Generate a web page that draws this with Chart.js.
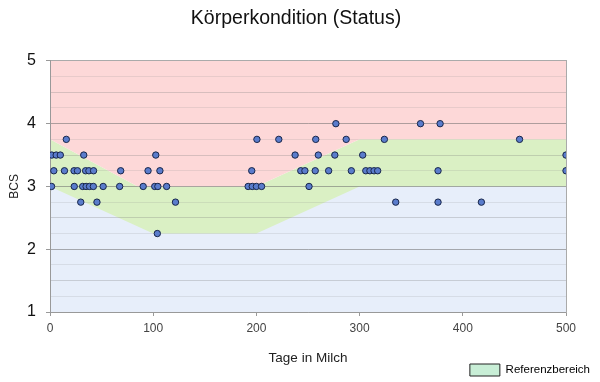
<!DOCTYPE html>
<html><head><meta charset="utf-8">
<script src="https://cdn.jsdelivr.net/npm/chart.js@4"></script>
<style>html,body{margin:0;padding:0;background:#fff}#wrap{width:600px;height:382px;position:relative}</style>
</head><body><div id="wrap"><canvas id="c"></canvas></div>
<script>
const chartTitle = 'Körperkondition (Status)';
const xTitle = 'Tage in Milch';
const yTitle = 'BCS';
const legendLabel = 'Referenzbereich';
const xTicks = [0, 100, 200, 300, 400, 500];
const yTicks = [1, 2, 3, 4, 5];
const refUpperDays = [0, 85, 200, 300, 500];
const refUpperBCS  = [3.75, 3.0, 3.0, 3.75, 3.75];
const refLowerDays = [0, 100, 200, 300, 500];
const refLowerBCS  = [3.0, 2.25, 2.25, 3.0, 3.0];
const cowDays = [
  1.5, 23.5, 31.7, 35, 38.3, 42, 51.5, 67.5, 90.3, 101.5, 104.5, 113,
  3.7, 14, 23.3, 26.6, 34.5, 37.7, 42.2, 68.5, 95, 106.5,
  1.7, 6, 10, 32.7, 102.5,
  15.8,
  29.8, 45.5, 121.6,
  104,
  192, 196, 200, 205, 251,
  195.5, 243, 247, 257, 270, 292, 306, 310, 314, 317.5,
  237.5, 260, 276, 303,
  200.5, 221.7, 257.5, 287, 324,
  277,
  335,
  359, 378, 455, 500, 376, 500, 376, 418
];
const cowBCS = [
  3, 3, 3, 3, 3, 3, 3, 3, 3, 3, 3, 3,
  3.25, 3.25, 3.25, 3.25, 3.25, 3.25, 3.25, 3.25, 3.25, 3.25,
  3.5, 3.5, 3.5, 3.5, 3.5,
  3.75,
  2.75, 2.75, 2.75,
  2.25,
  3, 3, 3, 3, 3,
  3.25, 3.25, 3.25, 3.25, 3.25, 3.25, 3.25, 3.25, 3.25, 3.25,
  3.5, 3.5, 3.5, 3.5,
  3.75, 3.75, 3.75, 3.75, 3.75,
  4,
  2.75,
  4, 4, 3.75, 3.5, 3.25, 3.25, 2.75, 2.75
];

const toXY = (xs, ys) => xs.map((x, i) => ({x, y: ys[i]}));
const FONT = "'Liberation Sans', Arial, sans-serif";

new Chart(document.getElementById('c'), {
  type: 'scatter',
  data: {
    datasets: [
      { label: 'unter', data: toXY(refLowerDays, refLowerBCS), showLine: true, borderWidth: 0, pointRadius: 0,
        backgroundColor: '#e7eefa', fill: 'start', order: 5 },
      { label: legendLabel, data: toXY(refUpperDays, refUpperBCS), showLine: true, borderWidth: 0, pointRadius: 0,
        backgroundColor: '#daf0c4', fill: 'start', order: 6 },
      { label: 'ueber', data: toXY(refUpperDays, refUpperBCS), showLine: true, borderWidth: 0, pointRadius: 0,
        backgroundColor: '#fdd8d8', fill: 'end', order: 3 },
      { label: 'BCS', data: toXY(cowDays, cowBCS), showLine: false, pointRadius: 3.2, pointHoverRadius: 3.2,
        backgroundColor: '#5a7ccc', borderColor: '#18264a', borderWidth: 1, order: 1 }
    ]
  },
  options: {
    responsive: true, maintainAspectRatio: false, animation: false,
    layout: { padding: { left: 0, right: 8, top: 0, bottom: -4 } },
    plugins: {
      filler: { drawTime: 'beforeDraw' },
      tooltip: { enabled: false },
      title: { display: true, text: chartTitle, color: '#111', font: { family: FONT, size: 19.5, weight: 'normal' },
        padding: { top: 7, bottom: 30.5 } },
      legend: {
        display: true, position: 'bottom', align: 'end',
        labels: {
          boxWidth: 30, boxHeight: 12, padding: 2, color: '#222', font: { family: FONT, size: 11.5 },
          generateLabels: () => [{ text: legendLabel, fillStyle: '#c8eed6', strokeStyle: '#222', lineWidth: 1, hidden: false, datasetIndex: 1 }]
        }
      }
    },
    scales: {
      x: {
        type: 'linear', position: 'bottom', min: 0, max: 500,
        afterBuildTicks: s => { s.ticks = xTicks.map(v => ({value: v})); },
        afterFit: s => { s.height = 50; },
        ticks: { color: '#444', font: { family: FONT, size: 12 }, padding: 5, maxRotation: 0 },
        grid: { drawOnChartArea: false, drawTicks: true, tickLength: 4, tickColor: '#999' },
        border: { color: '#999', width: 1 },
        title: { display: true, text: xTitle, color: '#222', font: { family: FONT, size: 13.5 }, padding: { top: 0, bottom: -4 } }
      },
      xTop: {
        type: 'linear', position: 'top', min: 0, max: 500,
        afterFit: s => { s.height = 0; },
        ticks: { display: false },
        grid: { drawOnChartArea: false, drawTicks: false },
        border: { color: '#aaa', width: 1 }
      },
      y: {
        type: 'linear', position: 'left', min: 1, max: 5,
        afterBuildTicks: s => { const t = []; for (let v = yTicks[0]; v <= yTicks[yTicks.length-1] + 1e-9; v += 0.25) t.push({value: Math.round(v*100)/100}); s.ticks = t; },
        afterFit: s => { s.width = 50; },
        ticks: { color: '#111', font: { family: FONT, size: 16 }, padding: 10, autoSkip: false,
          callback: v => (yTicks.includes(v) ? String(v) : '') },
        grid: {
          drawOnChartArea: true, drawTicks: true, tickLength: 4,
          color: c => { const v = c.tick ? c.tick.value : 0; if (Math.abs(v - Math.round(v)) < 1e-6) return 'rgba(110,110,110,0.55)'; if (Math.abs(v*2 - Math.round(v*2)) < 1e-6) return 'rgba(120,120,120,0.28)'; return 'rgba(140,140,140,0.18)'; },
          tickColor: c => { const v = c.tick ? c.tick.value : 0; return Math.abs(v - Math.round(v)) < 1e-6 ? '#999' : 'rgba(0,0,0,0)'; }
        },
        border: { color: '#999', width: 1 },
        title: { display: true, text: yTitle, color: '#222', font: { family: FONT, size: 12 }, padding: { top: 7, bottom: 0 } }
      },
      yRight: {
        type: 'linear', position: 'right', min: 1, max: 5,
        afterFit: s => { s.width = 26; },
        ticks: { display: false },
        grid: { drawOnChartArea: false, drawTicks: false },
        border: { color: '#aaa', width: 1 }
      }
    }
  }
});
</script>
</body></html>
